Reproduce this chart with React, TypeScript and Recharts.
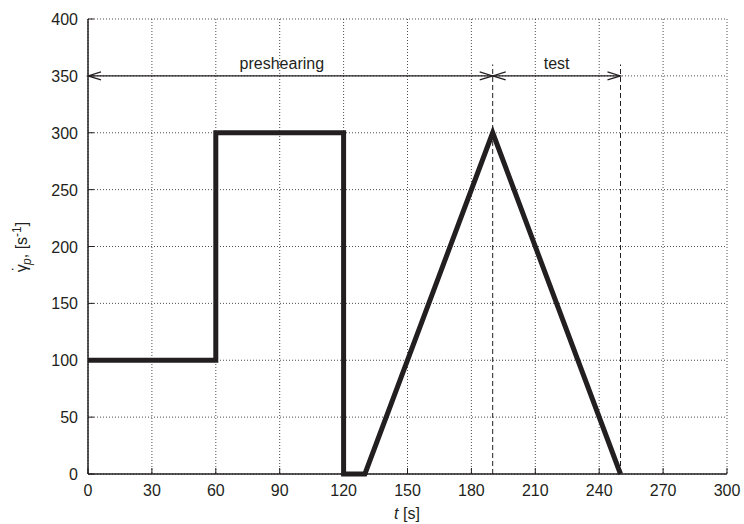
import { CartesianGrid, Line, LineChart, ReferenceDot, ReferenceLine, XAxis, YAxis } from "recharts";

// shear-rate program: preshearing steps followed by the test ramp
const timeS = [0, 60, 60, 120, 120, 130, 190, 250];
const shearRate = [100, 100, 300, 300, 0, 0, 300, 0];

const xTicks = [0, 30, 60, 90, 120, 150, 180, 210, 240, 270, 300];
const yTicks = [0, 50, 100, 150, 200, 250, 300, 350, 400];

// phase markers
const phaseStart = [0, 190];
const phaseEnd = [190, 250];
const phaseNames = ["preshearing", "test"];
const phaseLabelAt = [91, 220];
const arrowLevel = 350;
const markerTop = 360;

const data = timeS.map((t, i) => ({ t, rate: shearRate[i] }));

const INK = "#231f20";
const FONT = "'Liberation Sans', Arial, sans-serif";
const FS = 16;

const BottomTick = (props: any) => {
	const { x, y, payload } = props;
	return (
		<g>
			<line x1={x} y1={y} x2={x} y2={y - 6} stroke={INK} strokeWidth={1} />
			<text x={x} y={y + 22} textAnchor="middle" fontSize={FS} fill={INK} fontFamily={FONT}>
				{payload.value}
			</text>
		</g>
	);
};

const TopTick = (props: any) => {
	const { x, y } = props;
	return <line x1={x} y1={y} x2={x} y2={y + 6} stroke={INK} strokeWidth={1} />;
};

const LeftTick = (props: any) => {
	const { x, y, payload } = props;
	return (
		<g>
			<line x1={x} y1={y} x2={x + 6} y2={y} stroke={INK} strokeWidth={1} />
			<text x={x - 10} y={y + 6} textAnchor="end" fontSize={FS} fill={INK} fontFamily={FONT}>
				{payload.value}
			</text>
		</g>
	);
};

const RightTick = (props: any) => {
	const { x, y } = props;
	return <line x1={x} y1={y} x2={x - 6} y2={y} stroke={INK} strokeWidth={1} />;
};

// horizontal line with open arrowheads at both ends
const DoubleArrow = (props: any) => {
	const { x1, y1, x2, y2 } = props;
	const len = 13;
	const half = 4;
	return (
		<g>
			<line x1={x1} y1={y1} x2={x2} y2={y2} stroke={INK} strokeWidth={1.2} />
			<path
				d={`M${x1 + len},${y1 - half} L${x1},${y1} L${x1 + len},${y1 + half}`}
				fill="none"
				stroke={INK}
				strokeWidth={1.2}
			/>
			<path
				d={`M${x2 - len},${y2 - half} L${x2},${y2} L${x2 - len},${y2 + half}`}
				fill="none"
				stroke={INK}
				strokeWidth={1.2}
			/>
		</g>
	);
};

const PhaseLabel = (text: string) => (props: any) => {
	const { viewBox } = props;
	return (
		<text
			x={viewBox.x}
			y={viewBox.y - 7}
			textAnchor="middle"
			fontSize={FS}
			fill={INK}
			fontFamily={FONT}
		>
			{text}
		</text>
	);
};

export default function App() {
	return (
		<div style={{ position: "absolute", left: 0, top: 0, width: 744, height: 524, background: "#fff" }}>
			<LineChart width={744} height={524} data={data} margin={{ top: 19, right: 17, bottom: 0, left: 0 }}>
				<CartesianGrid stroke={INK} strokeDasharray="1 2" strokeWidth={0.8} />
				<XAxis
					dataKey="t"
					type="number"
					domain={[0, 300]}
					ticks={xTicks}
					axisLine={{ stroke: INK, strokeWidth: 1.5 }}
					tickLine={false}
					tickSize={0}
					tickMargin={0}
					tick={<BottomTick />}
					height={50}
				/>
				<XAxis
					xAxisId="top"
					orientation="top"
					dataKey="t"
					type="number"
					domain={[0, 300]}
					ticks={xTicks}
					axisLine={{ stroke: INK, strokeWidth: 1.5 }}
					tickLine={false}
					tickSize={0}
					tickMargin={0}
					tick={<TopTick />}
					height={0}
				/>
				<YAxis
					type="number"
					domain={[0, 400]}
					ticks={yTicks}
					axisLine={{ stroke: INK, strokeWidth: 1.5 }}
					tickLine={false}
					tickSize={0}
					tickMargin={0}
					tick={<LeftTick />}
					width={88}
				/>
				<YAxis
					yAxisId="right"
					orientation="right"
					type="number"
					domain={[0, 400]}
					ticks={yTicks}
					axisLine={{ stroke: INK, strokeWidth: 1.5 }}
					tickLine={false}
					tickSize={0}
					tickMargin={0}
					tick={<RightTick />}
					width={0}
				/>
				{phaseEnd.map((t) => (
					<ReferenceLine
						key={`end-${t}`}
						segment={[
							{ x: t, y: 0 },
							{ x: t, y: markerTop },
						]}
						stroke={INK}
						strokeWidth={1}
						strokeDasharray="5 3"
					/>
				))}
				{phaseStart.map((t, i) => (
					<ReferenceLine
						key={`arrow-${i}`}
						segment={[
							{ x: t, y: arrowLevel },
							{ x: phaseEnd[i], y: arrowLevel },
						]}
						shape={<DoubleArrow />}
					/>
				))}
				{phaseNames.map((name, i) => (
					<ReferenceDot
						key={name}
						x={phaseLabelAt[i]}
						y={arrowLevel}
						r={0}
						fill="none"
						stroke="none"
						label={PhaseLabel(name)}
					/>
				))}
				<Line
					dataKey="rate"
					type="linear"
					stroke={INK}
					strokeWidth={5}
					strokeLinejoin="miter"
					dot={false}
					activeDot={false}
					isAnimationActive={false}
				/>
			</LineChart>
			<svg
				width={744}
				height={524}
				style={{ position: "absolute", left: 0, top: 0, pointerEvents: "none" }}
			>
				<text x={407} y={519} textAnchor="middle" fontSize={FS} fill={INK} fontFamily={FONT}>
					<tspan fontStyle="italic">t</tspan> [s]
				</text>
				<text
					transform="translate(27,247) rotate(-90)"
					textAnchor="middle"
					fontSize={FS}
					fill={INK}
					fontFamily={FONT}
				>
					<tspan>γ</tspan>
					<tspan dx={-7} dy={-3}>˙</tspan>
					<tspan fontStyle="italic" fontSize={12} dx={1} dy={7}>p</tspan>
					<tspan dy={-4}>, [s</tspan>
					<tspan fontSize={12} dy={-6}>-1</tspan>
					<tspan dy={6}>]</tspan>
				</text>
			</svg>
		</div>
	);
}
